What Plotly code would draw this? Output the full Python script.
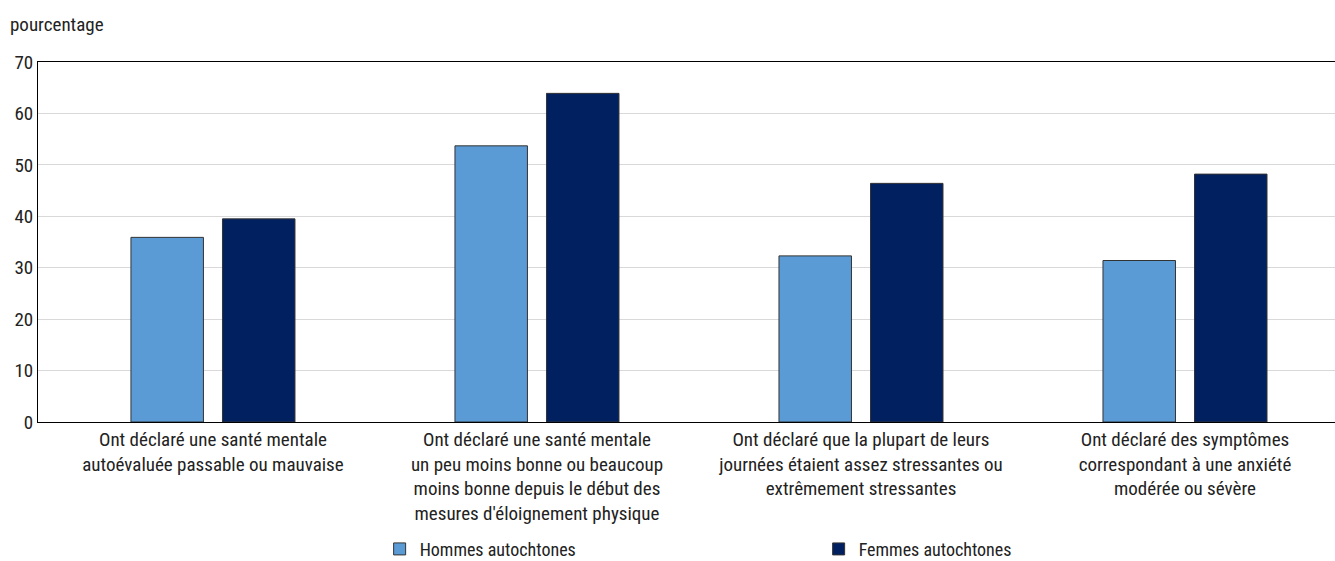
import plotly.graph_objects as go

categories = [
    "Ont déclaré une santé mentale<br>autoévaluée passable ou mauvaise",
    "Ont déclaré une santé mentale<br>un peu moins bonne ou beaucoup<br>moins bonne depuis le début des<br>mesures d'éloignement physique",
    "Ont déclaré que la plupart de leurs<br>journées étaient assez stressantes ou<br>extrêmement stressantes",
    "Ont déclaré des symptômes<br>correspondant à une anxiété<br>modérée ou sévère",
]
hommes = [35.9, 53.7, 32.3, 31.4]
femmes = [39.5, 63.9, 46.4, 48.2]
series_names = ["Hommes autochtones", "Femmes autochtones"]
y_ticks = [0, 10, 20, 30, 40, 50, 60, 70]

FONT = "Liberation Sans Narrow, Arial Narrow, Roboto Condensed, Roboto, sans-serif"

fig = go.Figure()
fig.add_trace(go.Bar(x=list(range(4)), y=hommes, name=series_names[0],
                     marker=dict(color="#5B9BD5", line=dict(color="#333333", width=1))))
fig.add_trace(go.Bar(x=list(range(4)), y=femmes, name=series_names[1],
                     marker=dict(color="#002060", line=dict(color="#333333", width=1))))

fig.update_layout(
    width=1335, height=561,
    margin=dict(l=38, r=0, t=62, b=139, autoexpand=False),
    paper_bgcolor="white", plot_bgcolor="white",
    font=dict(family=FONT, size=19, color="#222222"),
    barmode="group", bargap=0.435, bargroupgap=0.208,
    showlegend=True,
    legend=dict(orientation="h", x=0.2634, xanchor="left",
                yref="container", y=0.021, yanchor="middle",
                font=dict(size=18), itemwidth=30, entrywidth=394, entrywidthmode="pixels",
                traceorder="normal"),
    xaxis=dict(range=[-0.54, 3.463], tickmode="array", tickvals=list(range(4)),
               ticktext=categories, showline=True, linecolor="black", linewidth=1,
               mirror=True, ticks="", showgrid=False, tickangle=0, automargin=False,
               tickfont=dict(size=19)),
    yaxis=dict(range=[0, 70], tickvals=y_ticks, showgrid=True, gridcolor="#d9d9d9",
               gridwidth=1, showline=True, linecolor="black", linewidth=1, automargin=False,
               ticks="", tickfont=dict(size=19), zeroline=False),
    annotations=[dict(text="pourcentage", xref="paper", yref="paper", x=-0.0231, y=1.105,
                      xanchor="left", yanchor="middle", showarrow=False,
                      font=dict(size=19))],
)

fig.write_html("out.html")
